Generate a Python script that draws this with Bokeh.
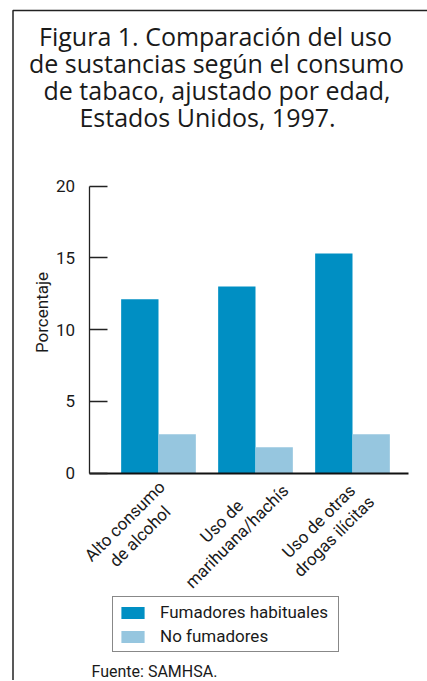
import math
from bokeh.plotting import figure
from bokeh.models import Range1d, FixedTicker, Legend, LegendItem, ColumnDataSource
from bokeh.core.properties import value
from bokeh.transform import dodge
from bokeh.embed import file_html
from bokeh.resources import INLINE

# ---------------- data ----------------
title_lines = [
    "Figura 1. Comparación del uso",
    "de sustancias según el consumo",
    "de tabaco, ajustado por edad,",
    "Estados Unidos, 1997.",
]
categories = [
    ["Alto consumo", "de alcohol"],
    ["Uso de", "marihuana/hachís"],
    ["Uso de otras", "drogas ilícitas"],
]
fumadores = [12.1, 13.0, 15.3]
no_fumadores = [2.7, 1.8, 2.7]
series_names = ["Fumadores habituales", "No fumadores"]
y_ticks = [0, 5, 10, 15, 20]
y_label = "Porcentaje"
source_note = "Fuente: SAMHSA."

# ---------------- layout constants (page pixels) ----------------
W, H = 434, 680
PX_X = 97.0                  # pixels per category unit
PX_Y = 287.0 / 20.0          # pixels per percent
AXIS_LEFT_PX, AXIS_RIGHT_PX, AXIS_ZERO_PX = 88.5, 407.5, 472.5
XA = -0.7165                 # data x at the y axis
XS = XA - AXIS_LEFT_PX / PX_X
XE = XS + W / PX_X
YE = AXIS_ZERO_PX / PX_Y
YS = YE - H / PX_Y


def dx(page_x):
    return XS + page_x / PX_X


def dy(page_y):
    return YE - page_y / PX_Y


DARK = "#008FC3"
LIGHT = "#96C6DF"
TXT = "#1a1a1a"
FONT = "Roboto"

idx = list(range(len(categories)))
src = ColumnDataSource(dict(x=idx, fum=fumadores, nof=no_fumadores))

p = figure(
    width=W, height=H,
    x_range=Range1d(XS, XE), y_range=Range1d(YS, YE),
    output_backend="svg", toolbar_location=None,
    min_border=0, min_border_left=0, min_border_right=0, min_border_top=0, min_border_bottom=0,
    styles={"overflow": "hidden"},
)
p.outline_line_color = None
p.xgrid.visible = False
p.ygrid.visible = False

# outer frame (left and top edges of the figure box)
p.line(x=[dx(12.5), dx(12.5), dx(W + 5)], y=[dy(H + 5), dy(10), dy(10)],
       line_color="#222", line_width=1.5)

bw = 0.385
r1 = p.vbar(x=dodge("x", -bw / 2, range=p.x_range), top="fum", width=bw, source=src,
            fill_color=DARK, line_color=None)
r2 = p.vbar(x=dodge("x", bw / 2, range=p.x_range), top="nof", width=bw, source=src,
            fill_color=LIGHT, line_color=None)

# y axis
ya = p.yaxis[0]
ya.fixed_location = XA
ya.bounds = (y_ticks[0], y_ticks[-1])
ya.ticker = FixedTicker(ticks=y_ticks)
ya.axis_line_color = "#222"
ya.axis_line_width = 1.3
ya.major_tick_in = 18
ya.major_tick_out = 0
ya.major_tick_line_color = "#222"
ya.major_tick_line_width = 1.3
ya.minor_tick_line_color = None
ya.major_label_text_font = FONT
ya.major_label_text_font_size = "17px"
ya.major_label_text_color = TXT
ya.major_label_standoff = 14

# x axis at y = 0
xa = p.xaxis[0]
xa.fixed_location = 0
xa.bounds = (XA, dx(AXIS_RIGHT_PX))
xa.ticker = FixedTicker(ticks=[])
xa.axis_line_color = "#111"
xa.axis_line_width = 2
xa.major_tick_line_color = None
xa.minor_tick_line_color = None
xa.major_label_text_font_size = "0px"

# title
title_centres_x = [215.0, 216.0, 216.5, 207.0]
title_centres_y = [35.3, 62.3, 89.3, 116.3]
tsrc = ColumnDataSource(dict(
    x=[dx(c) for c in title_centres_x],
    y=[dy(c) for c in title_centres_y],
    t=title_lines,
))
p.text(x="x", y="y", text="t", source=tsrc, text_align="center",
       text_baseline="middle", text_font=value("Open Sans"),
       text_font_size="25px", text_color=TXT)

# y axis label
p.text(x=[dx(41)], y=[dy(312)], text=[y_label], angle=math.pi / 2,
       text_align="center", text_baseline="middle", text_font=value(FONT),
       text_font_size="17px", text_color=TXT)

# category labels (rotated 45 degrees, two centred lines each)
offsets = [(-33.9, 48.1), (-18.7, 63.3)]
cx, cy, ct = [], [], []
for i, lines in zip(idx, categories):
    for line, (ox, oy) in zip(lines, offsets):
        cx.append(i + ox / PX_X)
        cy.append(-oy / PX_Y)
        ct.append(line)
csrc = ColumnDataSource(dict(x=cx, y=cy, t=ct))
p.text(x="x", y="y", text="t", source=csrc, angle=math.pi / 4,
       text_align="center", text_baseline="middle", text_font=value(FONT),
       text_font_size="17px", text_color=TXT)

# legend
legend = Legend(
    items=[LegendItem(label=series_names[0], renderers=[r1]),
           LegendItem(label=series_names[1], renderers=[r2])],
    location=(112, H - 652),
    orientation="vertical",
    border_line_color="#111", border_line_width=1.5,
    background_fill_color="white", background_fill_alpha=1,
    padding=5, margin=0, spacing=4,
    glyph_width=29, glyph_height=15, label_height=15, label_width=173, label_standoff=13,
    label_text_font=FONT, label_text_font_size="17px", label_text_color=TXT,
)
p.add_layout(legend, "center")

# source note
p.text(x=[dx(91)], y=[dy(670.5)], text=[source_note], text_align="left",
       text_baseline="middle", text_font=value(FONT), text_font_size="16px",
       text_color=TXT)

open("out.html", "w").write(file_html(p, INLINE))
